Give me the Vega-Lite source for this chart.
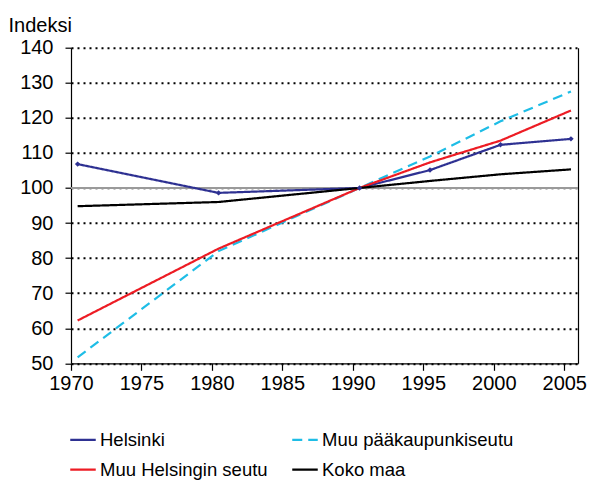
{
  "$schema": "https://vega.github.io/schema/vega-lite/v6.json",
  "autosize": {"type": "none"},
  "width": 507,
  "height": 315.6,
  "padding": {"left": 71, "top": 47.7, "right": 17, "bottom": 121.7},
  "background": "white",
  "config": {
    "font": "Liberation Sans, Arial",
    "view": {"stroke": null},
    "axis": {"labelFont": "Liberation Sans, Arial", "titleFont": "Liberation Sans, Arial"},
    "legend": {"labelFont": "Liberation Sans, Arial"}
  },
  "datasets": {
    "series": [
      {"year": 1970, "series": "Helsinki", "value": 106.8},
      {"year": 1980, "series": "Helsinki", "value": 98.6},
      {"year": 1990, "series": "Helsinki", "value": 100.0},
      {"year": 1995, "series": "Helsinki", "value": 105.1},
      {"year": 2000, "series": "Helsinki", "value": 112.3},
      {"year": 2005, "series": "Helsinki", "value": 114.0},
      {"year": 1970, "series": "Muu pääkaupunkiseutu", "value": 51.7},
      {"year": 1980, "series": "Muu pääkaupunkiseutu", "value": 82.0},
      {"year": 1990, "series": "Muu pääkaupunkiseutu", "value": 100.0},
      {"year": 1995, "series": "Muu pääkaupunkiseutu", "value": 109.0},
      {"year": 2000, "series": "Muu pääkaupunkiseutu", "value": 119.0},
      {"year": 2005, "series": "Muu pääkaupunkiseutu", "value": 127.5},
      {"year": 1970, "series": "Muu Helsingin seutu", "value": 62.2},
      {"year": 1980, "series": "Muu Helsingin seutu", "value": 82.7},
      {"year": 1990, "series": "Muu Helsingin seutu", "value": 100.0},
      {"year": 1995, "series": "Muu Helsingin seutu", "value": 107.3},
      {"year": 2000, "series": "Muu Helsingin seutu", "value": 113.5},
      {"year": 2005, "series": "Muu Helsingin seutu", "value": 122.1},
      {"year": 1970, "series": "Koko maa", "value": 94.8},
      {"year": 1980, "series": "Koko maa", "value": 96.0},
      {"year": 1990, "series": "Koko maa", "value": 100.0},
      {"year": 1995, "series": "Koko maa", "value": 102.0},
      {"year": 2000, "series": "Koko maa", "value": 103.9},
      {"year": 2005, "series": "Koko maa", "value": 105.3}
    ],
    "ref": [{"value": 100}]
  },
  "layer": [
    {
      "data": {"name": "ref"},
      "mark": {"type": "rule", "color": "#9a9a9a", "strokeWidth": 2},
      "encoding": {
        "y": {"field": "value", "type": "quantitative", "scale": {"domain": [50, 140], "nice": false, "zero": false},
          "axis": {"orient": "right", "labels": false, "ticks": false, "grid": false, "title": null, "domain": true, "domainColor": "black", "domainWidth": 1.2}}
      }
    },
    {
      "data": {"name": "series"},
      "mark": {"type": "line", "strokeWidth": 2.2},
      "encoding": {
        "x": {"field": "year", "type": "quantitative",
          "scale": {"domain": [1969.53, 2005.5], "nice": false, "zero": false},
          "axis": {"values": [1970, 1975, 1980, 1985, 1990, 1995, 2000, 2005], "format": "d", "title": null,
            "tickOffset": -6.7, "labelFontSize": 20, "labelColor": "black", "labelPadding": 3,
            "tickSize": 7, "tickColor": "black", "domainColor": "black", "domainWidth": 1.2, "tickWidth": 1.2, "grid": false, "labelFlush": false}},
        "y": {"field": "value", "type": "quantitative", "scale": {"domain": [50, 140], "nice": false, "zero": false},
          "axis": {"values": [50, 60, 70, 80, 90, 100, 110, 120, 130, 140], "title": "Indeksi", "titleAngle": 0,
            "titleAlign": "left", "titleBaseline": "alphabetic", "titleX": -63, "titleY": -16, "titleFontSize": 20, "titleFontWeight": "normal", "titleColor": "black",
            "labelFontSize": 20, "labelColor": "black", "labelPadding": 12, "tickSize": 6, "tickColor": "black", "tickWidth": 1.2,
            "domainColor": "black", "domainWidth": 1.2,
            "grid": true, "gridColor": "black", "gridDash": [2, 4], "gridWidth": 2, "gridOpacity": 1}},
        "color": {"field": "series", "type": "nominal", "title": null,
          "scale": {"domain": ["Helsinki", "Muu Helsingin seutu", "Muu pääkaupunkiseutu", "Koko maa"],
            "range": ["#2e3192", "#ed1c24", "#1ebde6", "#000000"]},
          "legend": {"orient": "none", "legendX": -2, "legendY": 378, "columns": 2, "columnPadding": 19, "rowPadding": 6,
            "symbolType": "stroke", "symbolSize": 650, "symbolStrokeWidth": 2.2, "labelFontSize": 18.5, "labelColor": "black", "labelOffset": 3, "labelLimit": 400}},
        "strokeDash": {"field": "series", "type": "nominal", "title": null,
          "scale": {"domain": ["Helsinki", "Muu Helsingin seutu", "Muu pääkaupunkiseutu", "Koko maa"],
            "range": [[1, 0], [1, 0], [10, 6], [1, 0]]}}
      }
    },
    {
      "data": {"name": "series"},
      "transform": [{"filter": "datum.series === 'Helsinki'"}],
      "mark": {"type": "point", "shape": "diamond", "filled": true, "size": 30, "color": "#2e3192", "opacity": 1},
      "encoding": {
        "x": {"field": "year", "type": "quantitative"},
        "y": {"field": "value", "type": "quantitative", "axis": null}
      }
    }
  ],
  "resolve": {"axis": {"y": "independent"}}
}
